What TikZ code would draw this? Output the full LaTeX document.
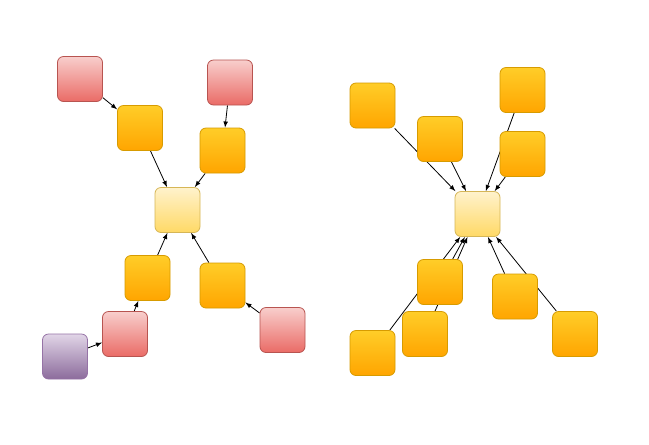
\documentclass[tikz,border=0pt]{standalone}
\usepackage{xcolor}
\usepackage{tikz}
\usetikzlibrary{arrows,backgrounds}
\definecolor{orangeTop}{HTML}{FFCD28}
\definecolor{orangeBot}{HTML}{FFA500}
\definecolor{orangeLine}{HTML}{D79B00}
\definecolor{redTop}{HTML}{F8CECC}
\definecolor{redBot}{HTML}{EA6B66}
\definecolor{redLine}{HTML}{B85450}
\definecolor{violetTop}{HTML}{E1D5E7}
\definecolor{violetBot}{HTML}{8C6C9C}
\definecolor{violetLine}{HTML}{9673A6}
\definecolor{hubTop}{HTML}{FFF2CC}
\definecolor{hubBot}{HTML}{FFD966}
\definecolor{hubLine}{HTML}{D6B656}
\tikzset{
	box/.style={
			rectangle, rounded corners=4.5pt, minimum size=33.75pt, inner sep=0pt, line width=0.6pt
		},
	orangebox/.style={box, draw=orangeLine, top color=orangeTop, bottom color=orangeBot},
	redbox/.style={box, draw=redLine, top color=redTop, bottom color=redBot},
	violetbox/.style={box, draw=violetLine, top color=violetTop, bottom color=violetBot},
	hubbox/.style={box, draw=hubLine, top color=hubTop, bottom color=hubBot},
	link/.style={->, >=latex, line width=0.6pt}
}

\begin{document}
\begin{tikzpicture}[x=0.75pt, y=-0.75pt]
		\useasboundingbox (0,0) rectangle (649,444);
		
		% left star
		\node[hubbox] (hubL) at (177.5,210) {};
		\node[orangebox] (aL) at (140,128) {};
		\node[orangebox] (bL) at (222.5,150.5) {};
		\node[orangebox] (cL) at (147.5,278) {};
		\node[orangebox] (dL) at (222.5,285.5) {};
		\node[redbox] (rTL) at (80,79) {};
		\node[redbox] (rTR) at (230,82.5) {};
		\node[redbox] (rBL) at (125,334) {};
		\node[redbox] (rBR) at (282.5,330) {};
		\node[violetbox] (vBL) at (65,356.5) {};
		
		% right star
		\node[hubbox] (hubR) at (477.5,214) {};
		\node[orangebox] (o1) at (372.5,105.5) {};
		\node[orangebox] (o2) at (440,139) {};
		\node[orangebox] (o3) at (522.5,90) {};
		\node[orangebox] (o4) at (522.5,154) {};
		\node[orangebox] (o5) at (440,282) {};
		\node[orangebox] (o6) at (425,334) {};
		\node[orangebox] (o7) at (372.5,353) {};
		\node[orangebox] (o8) at (515,296.5) {};
		\node[orangebox] (o9) at (575,334) {};
		
		\begin{scope}[on background layer]
			\fill[white] (0,0) rectangle (649,444);
			\draw[link] (rTL) -- (aL);
			\draw[link] (rTR) -- (bL);
			\draw[link] (aL) -- (hubL);
			\draw[link] (bL) -- (hubL);
			\draw[link] (cL) -- (hubL);
			\draw[link] (dL) -- (hubL);
			\draw[link] (rBL) -- (cL);
			\draw[link] (vBL) -- (rBL);
			\draw[link] (rBR) -- (dL);
			
			\foreach \n in {o1,o2,o3,o4,o5,o6,o7,o8,o9}
				\draw[link] (\n) -- (hubR);
		\end{scope}
	\end{tikzpicture}
\end{document}
